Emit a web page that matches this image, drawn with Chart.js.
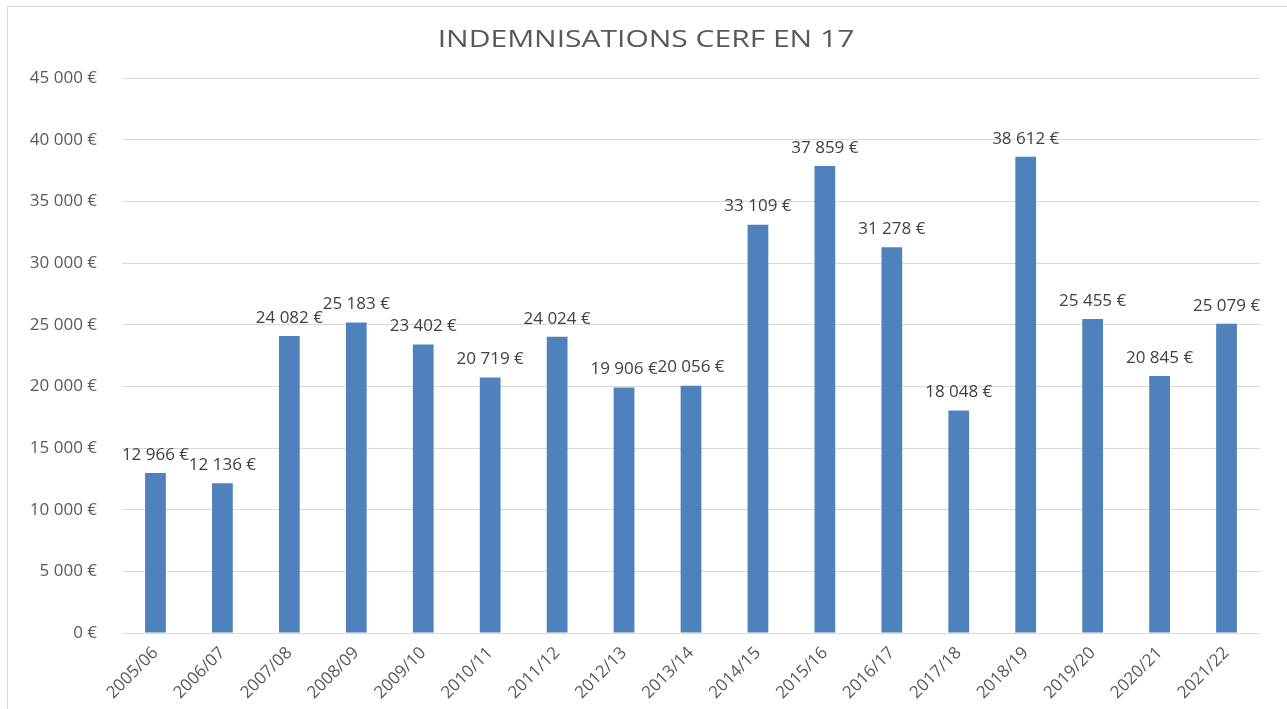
<!DOCTYPE html>
<html>
<head>
<meta charset="utf-8">
<script src="https://cdn.jsdelivr.net/npm/chart.js@4/dist/chart.umd.min.js"></script>
<style>
  html, body { margin: 0; padding: 0; background: #fff; }
  #wrap { position: absolute; left: 0; top: 0; width: 1287px; height: 709px; }
  #frame { position: absolute; left: 7px; top: 6px; width: 1300px; height: 720px; border: 1px solid #d9d9d9; pointer-events: none; }
</style>
</head>
<body>
<div id="wrap"><canvas id="cerfChart" width="1287" height="709"></canvas></div>
<div id="frame"></div>
<script>
const chartTitle = 'INDEMNISATIONS CERF EN 17';
const seasons = ['2005/06', '2006/07', '2007/08', '2008/09', '2009/10', '2010/11', '2011/12', '2012/13', '2013/14',
    '2014/15', '2015/16', '2016/17', '2017/18', '2018/19', '2019/20', '2020/21', '2021/22'];
const amounts = [12966, 12136, 24082, 25183, 23402, 20719, 24024, 19906, 20056,
    33109, 37859, 31278, 18048, 38612, 25455, 20845, 25079];
const yTicks = [0, 5000, 10000, 15000, 20000, 25000, 30000, 35000, 40000, 45000];

function euros(v) {
    return String(v).replace(/\B(?=(\d{3})+(?!\d))/g, ' ') + ' €';
}

// labels over the bars (outside end) + a slightly wide title like the original
const barLabels = {
    id: 'barLabels',
    afterDatasetsDraw(chart) {
        const ctx = chart.ctx;
        const meta = chart.getDatasetMeta(0);
        ctx.save();
        ctx.font = '17px "Open Sans"';
        ctx.fillStyle = '#404040';
        ctx.textAlign = 'center';
        ctx.textBaseline = 'middle';
        meta.data.forEach(function (bar, i) {
            ctx.fillText(euros(amounts[i]), bar.x, bar.y - 18);
        });
        ctx.restore();
    },
    afterDraw(chart) {
        const ctx = chart.ctx;
        ctx.save();
        ctx.font = '24px "Open Sans"';
        ctx.fillStyle = '#595959';
        ctx.textAlign = 'center';
        ctx.textBaseline = 'alphabetic';
        ctx.translate(646, 47);
        ctx.scale(1.25, 1);
        ctx.fillText(chartTitle, 0, 0);
        ctx.restore();
    }
};

const ctx = document.getElementById('cerfChart').getContext('2d');
new Chart(ctx, {
    type: 'bar',
    data: {
        labels: seasons,
        datasets: [{
            data: amounts,
            backgroundColor: '#4f81bd',
            categoryPercentage: 1,
            barPercentage: 0.31,
        }],
    },
    options: {
        responsive: false,
        animation: false,
        layout: { padding: { top: 78, right: 27, left: 0, bottom: 0 } },
        plugins: {
            legend: { display: false },
            tooltip: { enabled: false },
            title: { display: false },
        },
        scales: {
            x: {
                grid: { display: false },
                border: { color: '#d9d9d9' },
                ticks: {
                    color: '#595959',
                    font: { family: 'Open Sans', size: 17 },
                    minRotation: 45,
                    maxRotation: 45,
                    padding: 2,
                },
                afterFit(scale) { scale.height = 76; },
            },
            y: {
                min: 0,
                max: 45000,
                border: { display: false },
                grid: { color: '#d9d9d9', drawTicks: false },
                afterBuildTicks(scale) {
                    scale.ticks = yTicks.map(function (v) { return { value: v }; });
                },
                ticks: {
                    color: '#595959',
                    font: { family: 'Open Sans', size: 17 },
                    padding: 25,
                    callback: function (v) { return euros(v); },
                },
                afterFit(scale) { scale.width = 122; },
            },
        },
    },
    plugins: [barLabels],
});
</script>
</body>
</html>
